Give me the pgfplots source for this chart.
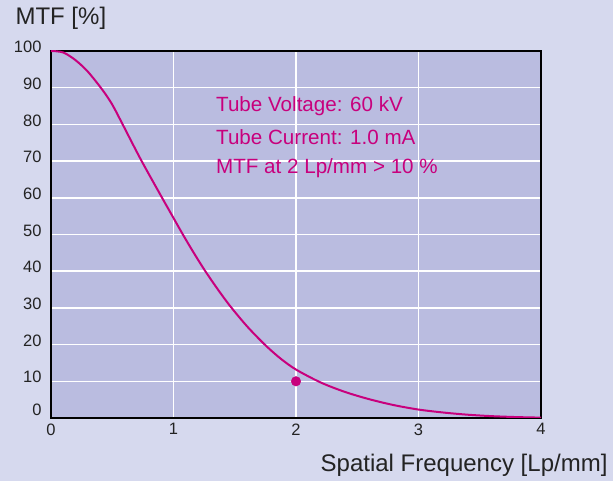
\documentclass[border=0pt]{standalone}
\usepackage{fontspec}
\setmainfont{Liberation Sans}
\usepackage{pgfplots}
\pgfplotsset{compat=1.18}

\definecolor{outerbg}{RGB}{214,217,238}
\definecolor{innerbg}{RGB}{186,188,224}
\definecolor{mtfmag}{RGB}{200,0,125}
\definecolor{txt}{RGB}{35,35,35}

\begin{document}
\begin{tikzpicture}
    % page background
    \fill[outerbg] (-51pt,-63pt) rectangle (562pt,418pt);
    \begin{axis}[
        scale only axis,
        width=490pt, height=367pt,
        xmin=0, xmax=4,
        ymin=0, ymax=100,
        xtick={0,1,2,3,4},
        ytick={10,20,...,100},
        extra y ticks={0},
        extra y tick style={grid=none, yticklabel style={yshift=4pt}},
        grid=major,
        grid style={white, line width=1.5pt},
        axis background/.style={fill=innerbg},
        axis line style={black, line width=1.6pt},
        tick style={draw=none},
        /pgf/number format/assume math mode=true,
        ticklabel style={font=\fontsize{16.5}{19}\selectfont, text=txt},
        yticklabel style={yshift=4pt, xshift=-6pt},
        xticklabel style={yshift=-2pt},
        every axis x label/.style={at={(rel axis cs:1,0)}, anchor=east,
            xshift=70pt, yshift=-47pt,
            font=\fontsize{24}{28}\selectfont, text=txt},
        every axis y label/.style={at={(rel axis cs:0,1)}, anchor=west,
            xshift=-39pt, yshift=33pt,
            font=\fontsize{24}{28}\selectfont, text=txt},
        xlabel={Spatial Frequency [Lp/mm]},
        ylabel={MTF [\%]},
    ]
        \addplot[mtfmag, line width=2pt, smooth] coordinates {
            (0,100) (0.1,99.6) (0.2,97.5) (0.3,94.4) (0.42,89.4)
            (0.5,85.4) (0.585,80) (0.732,70.5) (0.89,61)
            (1.0,54.5) (1.08,49.8) (1.16,45.3) (1.25,40.5)
            (1.35,35.6) (1.46,30.6) (1.6,25) (1.745,20) (1.87,16.3)
            (2.0,13.2) (2.2,9.7) (2.4,7.1) (2.6,5.1) (2.8,3.5)
            (3.0,2.3) (3.2,1.5) (3.4,0.9) (3.6,0.5) (3.8,0.25) (4.0,0.1)
        };
        \addplot[only marks, mark=*, mark size=4.8pt, mtfmag] coordinates {(2,10)};
        \node[anchor=west, text=mtfmag, font=\fontsize{20.6}{24}\selectfont, inner sep=0pt]
            at (axis cs:1.347,85.0) {Tube Voltage: 60 kV};
        \node[anchor=west, text=mtfmag, font=\fontsize{20.6}{24}\selectfont, inner sep=0pt]
            at (axis cs:1.347,76.6) {Tube Current: 1.0 mA};
        \node[anchor=west, text=mtfmag, font=\fontsize{20.6}{24}\selectfont, inner sep=0pt]
            at (axis cs:1.347,68.1) {MTF at 2 Lp/mm > 10 \%};
    \end{axis}
\end{tikzpicture}
\end{document}
